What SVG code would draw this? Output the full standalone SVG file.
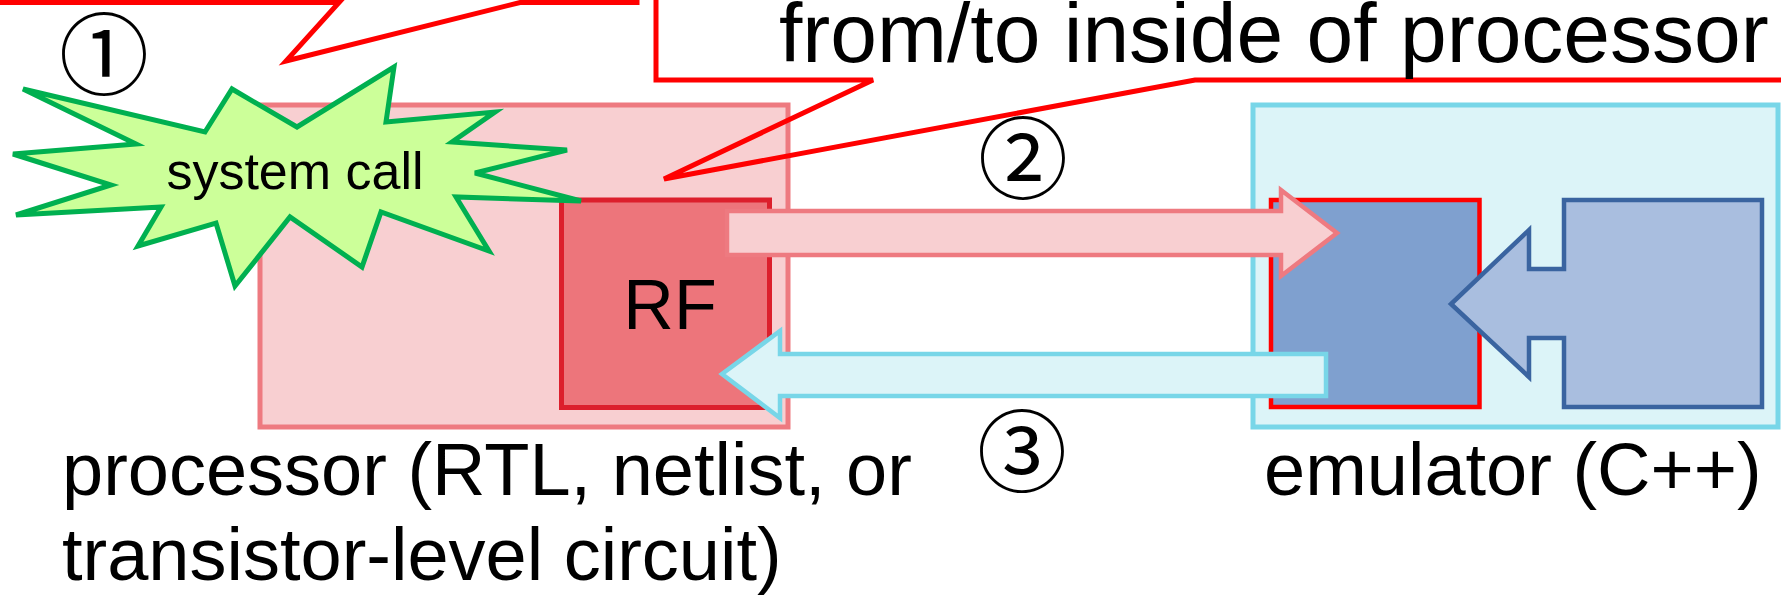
<svg xmlns="http://www.w3.org/2000/svg" width="1781" height="596" viewBox="0 0 1781 596">
  <style>
    .lbl { font-family: "Liberation Sans", Arial, sans-serif; fill: #000; }
    .num { font-family: "Noto Sans CJK JP", "DejaVu Sans", sans-serif; fill: #000; text-anchor: middle; }
    .callout { fill: none; stroke: #ff0000; stroke-width: 5; stroke-linejoin: miter; }
  </style>
  <rect width="1781" height="596" fill="#fff"/>

  <!-- processor block with register file -->
  <g id="processor">
    <rect x="260" y="105" width="528" height="322" fill="#f8cfd1" stroke="#ee7a80" stroke-width="5"/>
    <text class="lbl" x="62" y="495" font-size="74">processor (RTL, netlist, or</text>
    <text class="lbl" x="62" y="580" font-size="74">transistor-level circuit)</text>
  </g>
  <g id="rf">
    <rect x="561.5" y="200" width="208" height="207.5" fill="#ed757b" stroke="#dc1f2c" stroke-width="5"/>
    <text class="lbl" x="670" y="329" font-size="70" text-anchor="middle">RF</text>
  </g>

  <!-- emulator block -->
  <g id="emulator">
    <rect x="1253" y="105" width="525" height="322" fill="#dcf4f8" stroke="#78d6e8" stroke-width="5"/>
    <text class="lbl" x="1264" y="495" font-size="74">emulator (C++)</text>
  </g>
  <g id="emu-regs">
    <rect x="1271" y="200" width="208.5" height="207" fill="#7fa0cf" stroke="#ff0000" stroke-width="4.5"/>
  </g>
  <g id="emu-core">
    <polygon points="1564,200 1564,269 1529,269 1529,230 1451,304 1529,377 1529,338 1564,338 1564,407 1762,407 1762,200"
             fill="#a9bedf" stroke="#3a64a0" stroke-width="4.5"/>
  </g>

  <!-- callout balloons at the top, pointers reaching into the processor -->
  <g id="callout-left">
    <polygon class="callout" points="-10,-100 637,-100 637,2.5 520,2.5 286,61 339,2.5 -10,2.5"/>
  </g>
  <g id="callout-right">
    <polygon class="callout" points="656,-100 1800,-100 1800,80 1195,80 664,179 873,80 656,80"/>
    <text class="lbl" x="779" y="62" font-size="84">from/to inside of processor</text>
  </g>

  <!-- system call burst -->
  <g id="system-call">
    <polygon points="23,89 205,132 232,89 297,127 394,67 386,122 495,112 452,142 567,150 475,173 581,201 456,197 489,251 381,212 362,267 290,217 235,286 216,223 138,246 161,207 16,215 111,185 13,154 136,144"
             fill="#ccff99" stroke="#00b050" stroke-width="5" stroke-linejoin="miter"/>
    <text class="lbl" x="295" y="189" font-size="52" text-anchor="middle">system call</text>
  </g>

  <!-- transfer arrows -->
  <g id="connectors">
    <polygon points="727,211 1281,211 1281,190 1337,233 1281,276 1281,255 727,255"
             fill="#f8cfd1" stroke="#ee7a80" stroke-width="4.5"/>
    <polygon points="1326,354 780,354 780,331 722,374 780,418 780,396 1326,396"
             fill="#dcf4f8" stroke="#78d6e8" stroke-width="4.5"/>
  </g>

  <!-- step numbers -->
  <g id="step-1"><text class="num" x="104" y="88" font-size="90">①</text></g>
  <g id="step-2"><text class="num" x="1023" y="192" font-size="90">②</text></g>
  <g id="step-3"><text class="num" x="1022" y="485" font-size="90">③</text></g>
</svg>
